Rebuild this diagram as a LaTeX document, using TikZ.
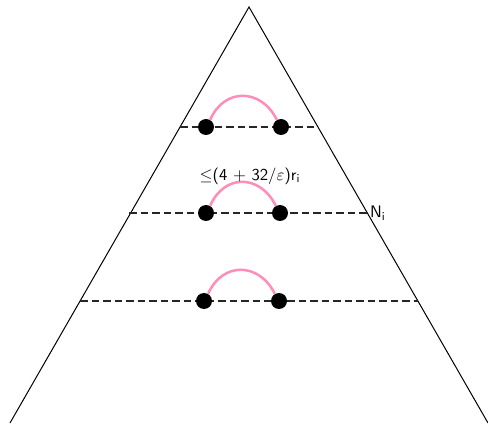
\documentclass[tikz,border=0pt]{standalone}
\usepackage{tikz}
\begin{document}
\begin{tikzpicture}[x=0.6pt,y=-0.6pt,
  edge/.style={line width=0.6pt},
  level/.style={dashed,line width=0.9pt,dash pattern=on 4.5pt off 2.4pt,black!85},
  dot/.style={circle,fill=black,inner sep=0pt,minimum size=9.6pt},
  arc/.style={line width=1.5pt,color={rgb,255:red,255;green,140;blue,185}},
  lab/.style={font=\sffamily,inner sep=1pt}]
\useasboundingbox (0,0) rectangle (488,424);
\coordinate (A) at (249,7);
\coordinate (B) at (10,423);
\coordinate (C) at (488,423);
\draw[edge] (B) -- (A) -- (C);
% levels
\coordinate (L1a) at (180,127); \coordinate (L1b) at (318,127);
\coordinate (L2a) at (129,213); \coordinate (L2b) at (368,213);
\coordinate (L3a) at (80,301);  \coordinate (L3b) at (418,301);
\draw[level] (L1a) -- (L1b);
\draw[level] (L2a) -- (L2b);
\draw[level] (L3a) -- (L3b);
% arcs
\foreach \n/\xa/\xb/\y in {1/206/281/127, 2/206/280/213, 3/204/279/301}{
  \node[dot] (p\n) at (\xa,\y) {};
  \node[dot] (q\n) at (\xb,\y) {};
  \draw[arc] (p\n.60) .. controls ++(14,-32) and ++(-16,-32) .. (q\n.120);
}
\node[lab] (bound) at (250,176) {$\leq$(4 + 32/$\varepsilon$)r$_{\mathsf{i}}$};
\node[lab,anchor=west] (Ni) at (368,213) {N$_{\mathsf{i}}$};
\end{tikzpicture}
\end{document}
